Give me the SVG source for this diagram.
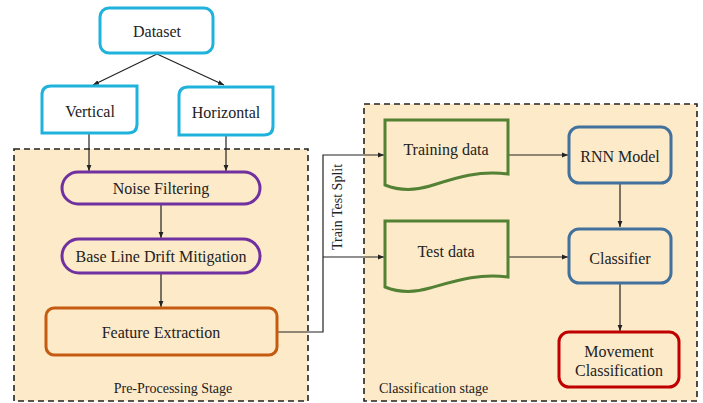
<svg xmlns="http://www.w3.org/2000/svg" width="703" height="403" viewBox="0 0 703 403">
  <defs>
    <marker id="arrow" viewBox="0 0 10 10" refX="10" refY="5" markerWidth="5" markerHeight="5" orient="auto">
      <path d="M0,1 L10,5 L0,9 Z" fill="#222"/>
    </marker>
    <style>
      .stage { fill: #fdeac9; stroke: #222; stroke-width: 1.6; stroke-dasharray: 6 4; }
      .lbl { font-family: "Liberation Serif", "Times New Roman", serif; font-size: 16px; fill: #222; text-anchor: middle; dominant-baseline: central; }
      .small { font-family: "Liberation Serif", "Times New Roman", serif; font-size: 14px; fill: #222; }
      .cyan { fill: #ffffff; stroke: #1fb3dc; stroke-width: 3; }
      .purple { fill: #fdeac9; stroke: #7030a0; stroke-width: 3; }
      .orange { fill: #fdeac9; stroke: #c55a11; stroke-width: 3; }
      .green { fill: #fdeac9; stroke: #548235; stroke-width: 3; }
      .blue { fill: #fdeac9; stroke: #41719c; stroke-width: 3; }
      .red { fill: #fdeac9; stroke: #c00000; stroke-width: 3; }
      .conn { fill: none; stroke: #222; stroke-width: 1.2; }
    </style>
  </defs>

  <rect width="703" height="403" fill="#ffffff"/>

  <!-- stage containers -->
  <g id="preprocessing-stage">
    <rect class="stage" x="14" y="149" width="294" height="252"/>
    <text class="small" x="173" y="393" text-anchor="middle">Pre-Processing Stage</text>
  </g>
  <g id="classification-stage">
    <rect class="stage" x="364" y="104" width="333" height="297"/>
    <text class="small" x="379" y="393">Classification stage</text>
  </g>

  <!-- connectors -->
  <g id="connectors">
    <line class="conn" x1="157" y1="54" x2="93" y2="85" marker-end="url(#arrow)"/>
    <line class="conn" x1="157" y1="54" x2="224" y2="85" marker-end="url(#arrow)"/>
    <line class="conn" x1="89" y1="134" x2="89" y2="171" marker-end="url(#arrow)"/>
    <line class="conn" x1="226" y1="136" x2="226" y2="171" marker-end="url(#arrow)"/>
    <line class="conn" x1="161" y1="205" x2="161" y2="238" marker-end="url(#arrow)"/>
    <line class="conn" x1="161" y1="274" x2="161" y2="307" marker-end="url(#arrow)"/>
    <polyline class="conn" points="278,332 323,332 323,155 384,155" marker-end="url(#arrow)"/>
    <polyline class="conn" points="323,257 384,257" marker-end="url(#arrow)"/>
    <line class="conn" x1="509" y1="155" x2="568" y2="155" marker-end="url(#arrow)"/>
    <line class="conn" x1="509" y1="257" x2="568" y2="257" marker-end="url(#arrow)"/>
    <line class="conn" x1="620" y1="184" x2="620" y2="227" marker-end="url(#arrow)"/>
    <line class="conn" x1="620" y1="284" x2="620" y2="331" marker-end="url(#arrow)"/>
    <text class="small" transform="translate(342,207) rotate(-90)" text-anchor="middle" font-size="13">Train Test Split</text>
  </g>

  <!-- nodes -->
  <g id="dataset">
    <rect class="cyan" x="100" y="8" width="113" height="45" rx="9"/>
    <text class="lbl" x="157" y="31">Dataset</text>
  </g>
  <g id="vertical">
    <path class="cyan" d="M51,86 H137 V124 Q137,133 128,133 H42 V95 Q42,86 51,86 Z"/>
    <text class="lbl" x="90" y="111">Vertical</text>
  </g>
  <g id="horizontal">
    <path class="cyan" d="M188,87 H273 V126 Q273,135 264,135 H179 V96 Q179,87 188,87 Z"/>
    <text class="lbl" x="226" y="112">Horizontal</text>
  </g>
  <g id="noise-filtering">
    <rect class="purple" x="62" y="172" width="198" height="32" rx="16"/>
    <text class="lbl" x="161" y="188">Noise Filtering</text>
  </g>
  <g id="baseline-drift">
    <rect class="purple" x="62" y="239" width="198" height="34" rx="17"/>
    <text class="lbl" x="161" y="256">Base Line Drift Mitigation</text>
  </g>
  <g id="feature-extraction">
    <rect class="orange" x="46" y="308" width="231" height="47" rx="8"/>
    <text class="lbl" x="161" y="332">Feature Extraction</text>
  </g>
  <g id="training-data">
    <path class="green" d="M385,120 H508 V174 C478,170 455,178 430,186 C410,192 395,189 385,185 Z"/>
    <text class="lbl" x="446" y="149">Training data</text>
  </g>
  <g id="test-data">
    <path class="green" d="M385,221 H508 V277 C478,273 455,281 430,288 C410,294 395,291 385,287 Z"/>
    <text class="lbl" x="446" y="251">Test data</text>
  </g>
  <g id="rnn-model">
    <rect class="blue" x="569" y="127" width="102" height="56" rx="10"/>
    <text class="lbl" x="620" y="156">RNN Model</text>
  </g>
  <g id="classifier">
    <rect class="blue" x="569" y="229" width="102" height="54" rx="10"/>
    <text class="lbl" x="620" y="258">Classifier</text>
  </g>
  <g id="movement-classification">
    <rect class="red" x="559" y="332" width="120" height="55" rx="10"/>
    <text class="lbl" x="619" y="351">Movement</text>
    <text class="lbl" x="619" y="370">Classification</text>
  </g>
</svg>
